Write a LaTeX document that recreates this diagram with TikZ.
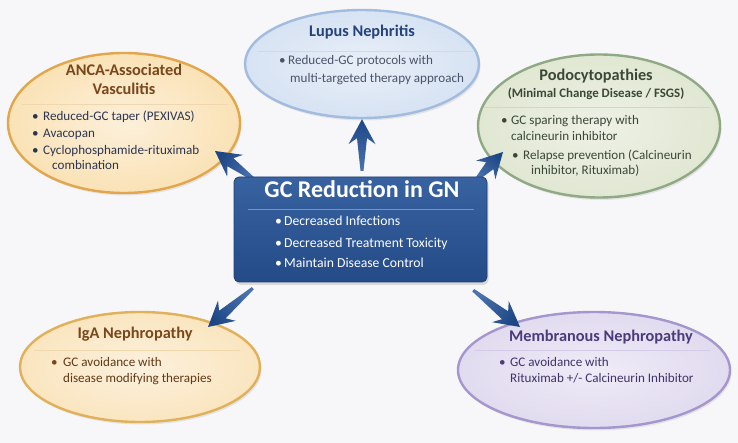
\documentclass[tikz,border=0pt]{standalone}
\usepackage{fontspec}
\setmainfont{Carlito}
\usetikzlibrary{shapes.geometric,calc,shadows}
\definecolor{bgc}{HTML}{F7F7F9}
\definecolor{ancaF}{HTML}{FAE2B6}\definecolor{ancaI}{HTML}{FCF0DA}\definecolor{ancaD}{HTML}{E2A64C}
\definecolor{lupF}{HTML}{D7E3F3}\definecolor{lupI}{HTML}{E8EFF8}\definecolor{lupD}{HTML}{A2BCDF}
\definecolor{podF}{HTML}{E0E7D2}\definecolor{podI}{HTML}{EEF1E6}\definecolor{podD}{HTML}{90A985}
\definecolor{igaF}{HTML}{FAE5BF}\definecolor{igaI}{HTML}{FCF1DE}\definecolor{igaD}{HTML}{E0B158}
\definecolor{memF}{HTML}{E1DBEF}\definecolor{memI}{HTML}{EFEBF7}\definecolor{memD}{HTML}{A596CE}
\definecolor{boxT}{HTML}{3862A0}\definecolor{boxB}{HTML}{244B88}\definecolor{boxD}{HTML}{1E3F73}
\definecolor{arrD}{HTML}{1D4685}\definecolor{arrL}{HTML}{4A72AE}
\definecolor{txtNavy}{HTML}{2B3550}
\definecolor{ttlBrown}{HTML}{7A461C}
\definecolor{ttlNavy}{HTML}{24437B}
\definecolor{ttlGreen}{HTML}{3B4836}
\definecolor{ttlPurple}{HTML}{4B3B7C}
\newcommand\blockarrow[3]{%
  \coordinate (ba-h) at ($(#2)!25pt!(#1)$);
  \coordinate (ba-n) at ($(#2)!19pt!(#1)$);
  \shade[top color=arrD, bottom color=arrL, shading angle=#3]
    ($(#1)!1.5pt!90:(#2)$) -- ($(ba-n)!5pt!90:(#2)$) -- ($(ba-h)!13.5pt!90:(#2)$) -- (#2)
    -- ($(ba-h)!13.5pt!-90:(#2)$) -- ($(ba-n)!5pt!-90:(#2)$) -- ($(#1)!1.5pt!-90:(#2)$) -- cycle;}
\begin{document}
\begin{tikzpicture}[x=1pt,y=-1pt,
  ell/.style={ellipse, inner sep=0pt, line width=2.4pt,
    drop shadow={opacity=0.16, shadow xshift=1.5pt, shadow yshift=-2.5pt}},
  ttl/.style={anchor=mid, inner sep=0pt, font=\fontsize{16.3}{19}\selectfont\bfseries},
  sub/.style={anchor=mid, inner sep=0pt, font=\fontsize{12.9}{15}\selectfont\bfseries},
  txt/.style={anchor=mid west, inner sep=0pt, font=\fontsize{13.1}{15}\selectfont},
  ctxt/.style={anchor=mid west, inner sep=0pt, font=\fontsize{13.7}{16}\selectfont},
  divl/.style={line width=0.9pt},
  boxshape/.style={rectangle, rounded corners=5pt, inner sep=0pt, minimum width=253pt, minimum height=105pt},
  gcbox/.style={boxshape, top color=boxT, bottom color=boxB, draw=boxD, line width=0.8pt,
    drop shadow={opacity=0.25, shadow xshift=1.5pt, shadow yshift=-3pt}}]
\fill[bgc] (0,0) rectangle (738,443);
\useasboundingbox (0,0) rectangle (738,443);
% ellipses
\node[ell, minimum width=232pt, minimum height=140pt, draw=ancaD, inner color=ancaI, outer color=ancaF] (anca) at (124,123) {};
\node[ell, minimum width=234pt, minimum height=108pt, draw=lupD, inner color=lupI, outer color=lupF] (lupus) at (362,64) {};
\node[ell, minimum width=242pt, minimum height=143pt, draw=podD, inner color=podI, outer color=podF] (podo) at (599,126) {};
\node[ell, minimum width=240pt, minimum height=110pt, draw=igaD, inner color=igaI, outer color=igaF] (iga) at (140,367) {};
\node[ell, minimum width=272pt, minimum height=116pt, draw=memD, inner color=memI, outer color=memF] (memb) at (594,370) {};
% ANCA
\node[ttl, text=ttlBrown] (a-t1) at (124,73) {ANCA-Associated};
\node[ttl, text=ttlBrown] (a-t2) at (124,92) {Vasculitis};
\draw[divl, ancaD!45] (22,104) -- (228,104);
\node[txt, text=txtNavy] (a-b1) at (32,118) {•};
\node[txt, text=txtNavy] (a-l1) at (43,118) {Reduced-GC taper (PEXIVAS)};
\node[txt, text=txtNavy] (a-b2) at (32,135) {•};
\node[txt, text=txtNavy] (a-l2) at (43,135) {Avacopan};
\node[txt, text=txtNavy] (a-b3) at (32,152) {•};
\node[txt, text=txtNavy] (a-l3) at (43,152) {Cyclophosphamide-rituximab};
\node[txt, text=txtNavy] (a-l4) at (52,167) {combination};
% Lupus
\node[ttl, text=ttlNavy] (l-t1) at (362,34) {Lupus Nephritis};
\draw[divl, lupD!55] (258,51) -- (473,51);
\node[txt, text=txtNavy!85] (l-b1) at (279,62) {•};
\node[txt, text=txtNavy!85] (l-l1) at (288,62) {Reduced-GC protocols with};
\node[txt, text=txtNavy!85] (l-l2) at (290,80) {multi-targeted therapy approach};
% Podo
\node[ttl, text=ttlGreen] (p-t1) at (596,78) {Podocytopathies};
\node[sub, text=ttlGreen] (p-t2) at (596,95) {(Minimal Change Disease / FSGS)};
\draw[divl, podD!45] (484,107) -- (710,107);
\node[txt, text=ttlGreen] (p-b1) at (501,122) {•};
\node[txt, text=ttlGreen] (p-l1) at (511,122) {GC sparing therapy with};
\node[txt, text=ttlGreen] (p-l2) at (511,138) {calcineurin inhibitor};
\node[txt, text=ttlGreen] (p-b2) at (512,157) {•};
\node[txt, text=ttlGreen] (p-l3) at (523,157) {Relapse prevention (Calcineurin};
\node[txt, text=ttlGreen] (p-l4) at (531,172) {inhibitor, Rituximab)};
% IgA
\node[ttl, text=ttlBrown] (i-t1) at (135,336) {IgA Nephropathy};
\draw[divl, igaD!50] (34,350) -- (240,350);
\node[txt, text=ttlBrown] (i-b1) at (51,364) {•};
\node[txt, text=ttlBrown!80!black] (i-l1) at (63,364) {GC avoidance with};
\node[txt, text=ttlBrown!80!black] (i-l2) at (63,380) {disease modifying therapies};
% Membranous
\node[ttl, text=ttlPurple] (m-t1) at (601,339) {Membranous Nephropathy};
\draw[divl, memD!50] (474,350) -- (710,350);
\node[txt, text=ttlPurple] (m-b1) at (499,364) {•};
\node[txt, text=ttlPurple!85!black] (m-l1) at (510,364) {GC avoidance with};
\node[txt, text=ttlPurple!85!black] (m-l2) at (510,380) {Rituximab +/- Calcineurin Inhibitor};
% center box (shape first, drawn over the arrow tails)
\path node[boxshape] (gc) at (360.5,229.5) {};
\coordinate (sA) at ($(gc.north west)+(22,4)$);
\coordinate (tA) at (215,151);
\coordinate (sL) at ($(lupus.south |- gc.north)+(0,-6)$);
\coordinate (tL) at (lupus.south);
\coordinate (sP) at ($(gc.north east)+(-12,4)$);
\coordinate (tP) at (503,152);
\coordinate (sI) at ($(gc.south west)+(19,6)$);
\coordinate (tI) at (208,327);
\coordinate (sM) at ($(gc.south east)+(-14,8)$);
\coordinate (tM) at (520,327);
\blockarrow{sA}{tA}{55}
\blockarrow{sL}{tL}{0}
\blockarrow{sP}{tP}{-44}
\blockarrow{sI}{tI}{132}
\blockarrow{sM}{tM}{-128}
\node[gcbox] (gcv) at (gc.center) {};
\node[anchor=mid, inner sep=0pt, text=white, font=\fontsize{24}{28}\selectfont\bfseries] (gc-t) at (362,195) {GC Reduction in GN};
\draw[white, opacity=0.35, line width=0.8pt] (248,209) -- (474,209);
\node[ctxt, text=white] (g-b1) at (275,223) {•};
\node[ctxt, text=white] (g-l1) at (284,223) {Decreased Infections};
\node[ctxt, text=white] (g-b2) at (275,245) {•};
\node[ctxt, text=white] (g-l2) at (284,245) {Decreased Treatment Toxicity};
\node[ctxt, text=white] (g-b3) at (275,265) {•};
\node[ctxt, text=white] (g-l3) at (284,265) {Maintain Disease Control};
\end{tikzpicture}
\end{document}
